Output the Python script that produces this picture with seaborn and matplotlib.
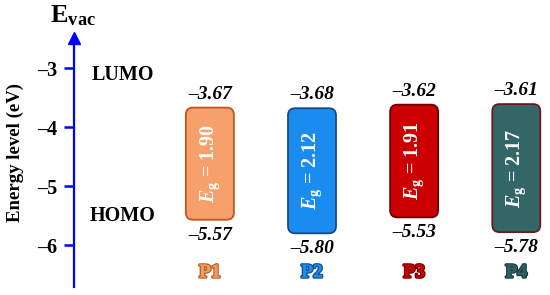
import pandas as pd
import matplotlib
matplotlib.use("Agg")
import matplotlib.pyplot as plt
import seaborn as sns
from matplotlib.patches import FancyBboxPatch
import matplotlib.patheffects as pe

# Data
polymers = ["P1", "P2", "P3", "P4"]
lumo = [-3.67, -3.68, -3.62, -3.61]
homo = [-5.57, -5.80, -5.53, -5.78]
gap_labels = ["1.90", "2.12", "1.91", "2.17"]
yticks = [-3, -4, -5, -6]
ytick_labels = ["\u20133", "\u20134", "\u20135", "\u20136"]

fill_colors = ["#F7A06B", "#1A8CF0", "#CC0000", "#336666"]
edge_colors = ["#C0561A", "#1F4A80", "#6E0000", "#6E1A1A"]
label_colors = ["#F39A60", "#1A8CF0", "#CC0000", "#2F6262"]
label_outline = ["#B8642E", "#14508C", "#7A0000", "#1C3C3C"]

df = pd.DataFrame({"polymer": polymers, "lumo": lumo, "homo": homo})
df["height"] = df["lumo"] - df["homo"]

sns.set_theme(style="white")
plt.rcParams["font.family"] = ["Liberation Serif", "DejaVu Serif"]
plt.rcParams["text.color"] = "black"
plt.rcParams["ytick.color"] = "black"
plt.rcParams["mathtext.fontset"] = "custom"
plt.rcParams["mathtext.rm"] = "Liberation Serif:bold"
plt.rcParams["mathtext.it"] = "Liberation Serif:italic:bold"
plt.rcParams["mathtext.bf"] = "Liberation Serif:bold"

fig = plt.figure(figsize=(5.5, 2.95), dpi=100)
ax = fig.add_axes([74 / 550, 8 / 295, 1 - 74 / 550, 249 / 295])

# -----------------------------
# Bars (band gaps) via seaborn, then rounded
# -----------------------------
sns.barplot(data=df, x="polymer", y="height", ax=ax, width=0.47)

bars = list(ax.patches)
for i, bar in enumerate(bars):
    x0 = bar.get_x()
    w = bar.get_width()
    bar.remove()
    box = FancyBboxPatch(
        (x0, homo[i]), w, df["height"][i],
        boxstyle="round,pad=0,rounding_size=0.07",
        mutation_aspect=1.73,
        facecolor=fill_colors[i],
        edgecolor=edge_colors[i],
        linewidth=1.3,
    )
    ax.add_patch(box)

    xc = x0 + w / 2
    ax.text(xc, lumo[i] + 0.23, "\u2013%.2f" % abs(lumo[i]),
            ha="center", va="center", fontsize=14,
            fontweight="bold", fontstyle="italic")
    ax.text(xc, homo[i] - 0.26, "\u2013%.2f" % abs(homo[i]),
            ha="center", va="center", fontsize=14,
            fontweight="bold", fontstyle="italic")
    ax.text(xc, (lumo[i] + homo[i]) / 2,
            r"$E_{\mathrm{g}}$ = " + gap_labels[i],
            rotation=90, ha="center", va="center", color="white",
            fontsize=14.5, fontweight="bold")
    ax.text(xc, -6.47, polymers[i], ha="center", va="center",
            fontsize=14, fontweight="bold", color=label_colors[i],
            path_effects=[pe.withStroke(linewidth=2.0,
                                        foreground=label_outline[i]),
                          pe.Normal()])

ax.text(-0.85, -3.12, "LUMO", ha="center", va="center",
        fontsize=14.5, fontweight="bold")
ax.text(-0.85, -5.51, "HOMO", ha="center", va="center",
        fontsize=14.5, fontweight="bold")

# -----------------------------
# Axis styling
# -----------------------------
ax.set_xlim(-1.33, 3.33)
ax.set_ylim(-6.71, -2.49)
ax.set_yticks(yticks)
ax.set_yticklabels(ytick_labels, fontweight="bold")
ax.set_xticks([])
ax.set_xlabel("")
ax.set_ylabel("")
for side in ["top", "right", "bottom"]:
    ax.spines[side].set_visible(False)
ax.spines["left"].set_color("blue")
ax.spines["left"].set_linewidth(1.6)
ax.tick_params(axis="y", direction="out", length=7, width=1.8,
               color="blue", labelcolor="black", labelsize=14.5,
               pad=5, left=True)
ax.plot(0, 1.0, marker="^", color="blue", markersize=8,
        transform=ax.transAxes, clip_on=False)

fig.text(15 / 550, 1 - 152 / 295, "Energy level (eV)", rotation=90,
         ha="center", va="center", fontsize=13.5, fontweight="bold")
fig.text(50 / 550, 1 - 22 / 295, r"$\mathrm{E}_{\mathrm{vac}}$",
         ha="left", va="baseline", fontsize=19)

fig.savefig("out.png", dpi=100)
plt.close(fig)
